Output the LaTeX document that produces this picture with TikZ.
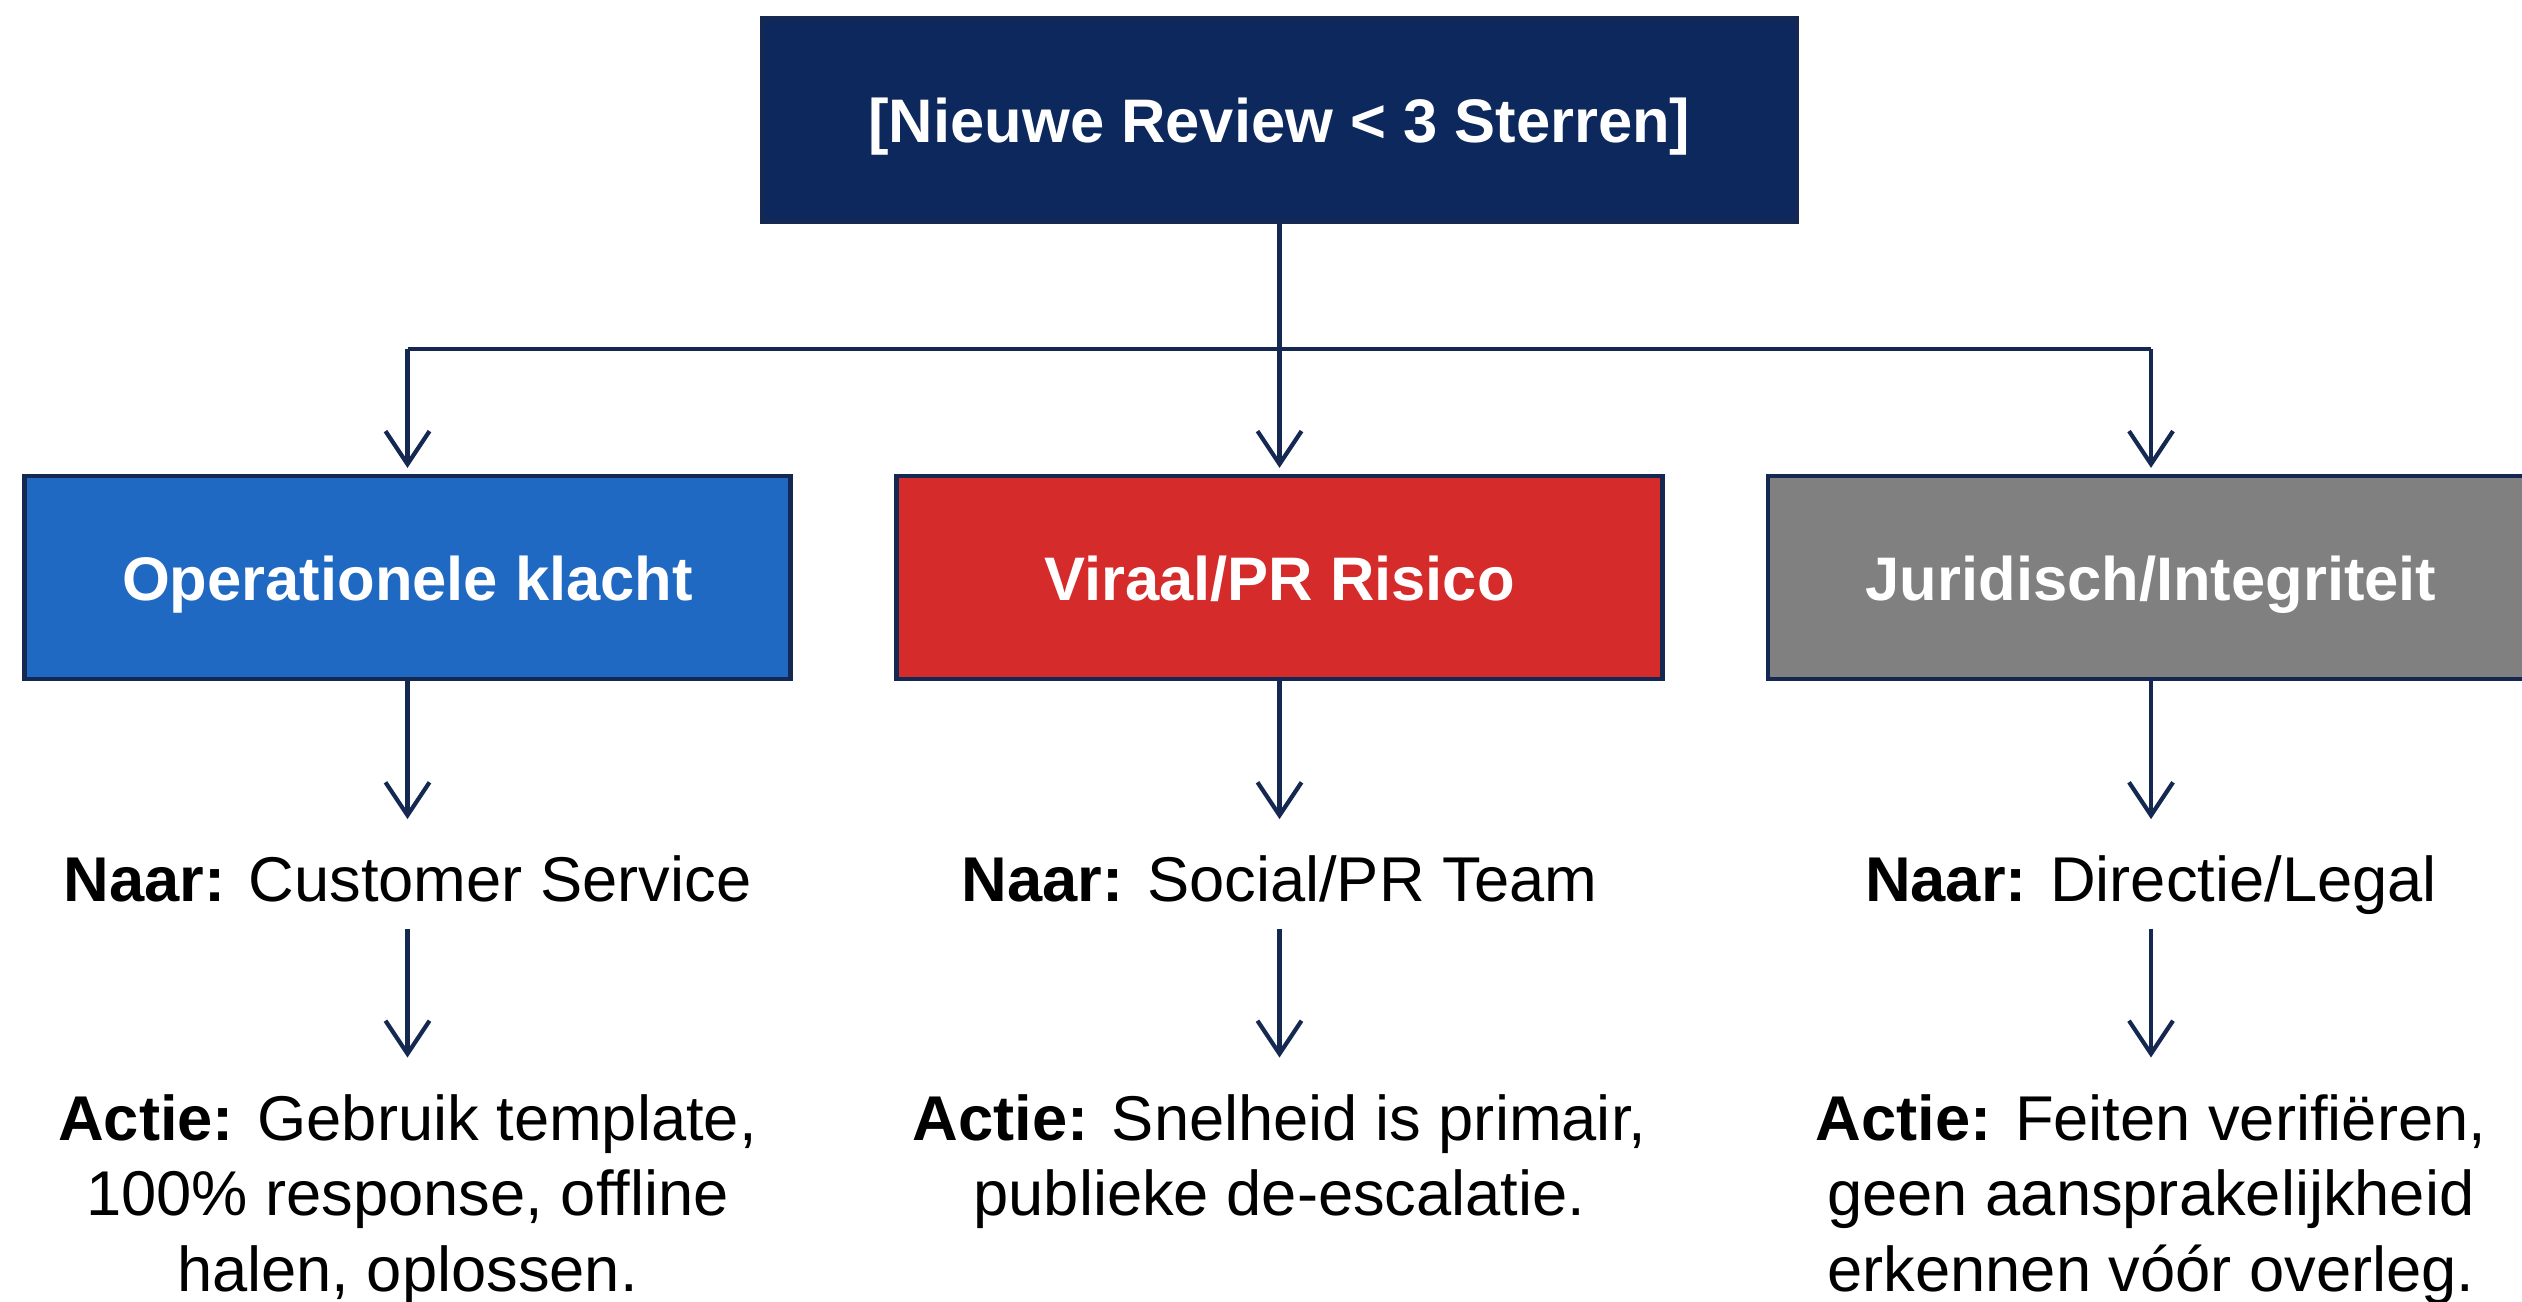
\documentclass[tikz,border=0pt]{standalone}
\usepackage{fontspec}
\setmainfont{Liberation Sans}
\usetikzlibrary{positioning}
\usetikzlibrary{arrows.meta}

\definecolor{navy}{RGB}{12,40,92}
\definecolor{linecol}{RGB}{20,40,82}
\definecolor{opblue}{RGB}{31,105,194}
\definecolor{prred}{RGB}{213,43,43}
\definecolor{jurgray}{RGB}{128,128,128}

\begin{document}
\begin{tikzpicture}[
		box/.style={draw=linecol,line width=1.2pt,minimum width=7.66cm,minimum height=2.03cm,inner sep=0pt,text height=0.45cm,text depth=0cm,text=white,font=\fontsize{17.5}{21}\selectfont\bfseries},
		naar/.style={inner sep=0pt,text height=0.44cm,text depth=0.12cm,font=\fontsize{18}{21.5}\selectfont},
		actie/.style={inner sep=0pt,align=center,font=\fontsize{18}{21.5}\selectfont},
		link/.style={draw=linecol,line width=1.2pt},
		arr/.style={link,-{Straight Barb[length=0.33cm,width=0.44cm]}}
		]
	\useasboundingbox (0,0) rectangle (25.22,-13.02);
	\clip (0,0) rectangle (25.22,-13.02);
	\fill[white] (0,0) rectangle (25.22,-13.02);

	\node[box,fill=navy,minimum width=10.35cm,minimum height=2.04cm] (review) at (12.795,-1.20) {[Nieuwe Review < 3 Sterren]};

	\node[box,fill=opblue] (klacht) at (4.075,-5.775) {Operationele klacht};
	\node[box,fill=prred] (viraal) at (12.795,-5.775) {Viraal/PR Risico};
	\node[box,fill=jurgray] (jurid) at (21.51,-5.775) {Juridisch/Integriteit};

	\node[naar,below=1.76cm of klacht] (klachtnaar) {\textbf{Naar:} Customer Service};
	\node[naar,below=1.76cm of viraal] (viraalnaar) {\textbf{Naar:} Social/PR Team};
	\node[naar,below=1.76cm of jurid] (juridnaar) {\textbf{Naar:} Directie/Legal};

	\node[actie,below=1.79cm of klachtnaar] (klachtactie) {\textbf{Actie:} Gebruik template,\\100\% response, offline\\halen, oplossen.};
	\node[actie,below=1.79cm of viraalnaar] (viraalactie) {\textbf{Actie:} Snelheid is primair,\\publieke de-escalatie.};
	\node[actie,below=1.79cm of juridnaar] (juridactie) {\textbf{Actie:} Feiten verifiëren,\\geen aansprakelijkheid\\erkennen vóór overleg.};

	\coordinate (hub) at (12.795,-3.49);
	\draw[link] (klacht.north |- hub) -- (jurid.north |- hub);
	\draw[arr,shorten >=0.06cm] (review) -- (viraal);
	\draw[arr,shorten >=0.06cm] (klacht.north |- hub) -- (klacht);
	\draw[arr,shorten >=0.06cm] (jurid.north |- hub) -- (jurid);

	\foreach \col in {klacht,viraal,jurid} {
		\draw[arr,shorten >=0.38cm] (\col) -- (\col naar);
		\draw[arr,shorten <=0.14cm,shorten >=0.36cm] (\col naar) -- (\col actie);
	}
\end{tikzpicture}
\end{document}
